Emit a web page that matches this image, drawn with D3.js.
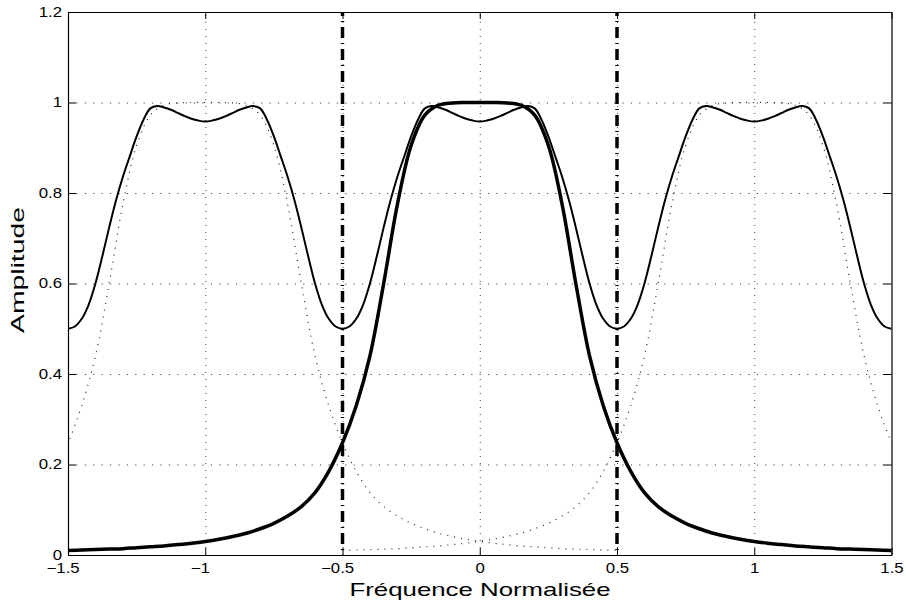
<!DOCTYPE html>
<html>
<head>
<meta charset="utf-8">
<script src="https://cdn.jsdelivr.net/npm/d3@7"></script>
<style>
  body { margin: 0; background: #fff; }
  svg { display: block; font-family: 'Liberation Sans', Arial, Helvetica, sans-serif; }
</style>
</head>
<body>
<div id="chart"></div>
<script>
// normalised frequency samples for the filter response
const freq = [
  -1.5, -1.45, -1.4, -1.35, -1.3, -1.25, -1.2, -1.15, -1.1, -1.05,
  -1.0, -0.95, -0.9, -0.85, -0.8, -0.75, -0.7, -0.65, -0.6, -0.55,
  -0.5, -0.45, -0.4, -0.35, -0.3, -0.25, -0.2, -0.15, -0.1, -0.05,
  0,
  0.05, 0.1, 0.15, 0.2, 0.25, 0.3, 0.35, 0.4, 0.45, 0.5,
  0.55, 0.6, 0.65, 0.7, 0.75, 0.8, 0.85, 0.9, 0.95, 1.0,
  1.05, 1.1, 1.15, 1.2, 1.25, 1.3, 1.35, 1.4, 1.45, 1.5
]

// filter response (thick line), also drawn dotted at +/-1
const filterAmp = [
  0.010, 0.011, 0.012, 0.013, 0.014, 0.016, 0.018, 0.020, 0.023, 0.026,
  0.030, 0.035, 0.041, 0.048, 0.058, 0.070, 0.086, 0.107, 0.138, 0.185,
  0.248, 0.330, 0.440, 0.600, 0.775, 0.905, 0.972, 0.994, 0.999, 1.000,
  1.000,
  1.000, 0.999, 0.994, 0.972, 0.905, 0.775, 0.600, 0.440, 0.330, 0.248,
  0.185, 0.138, 0.107, 0.086, 0.070, 0.058, 0.048, 0.041, 0.035, 0.030,
  0.026, 0.023, 0.020, 0.018, 0.016, 0.014, 0.013, 0.012, 0.011, 0.010
]

// finer samples for the periodic sum
const sumFreq = [
  -1.5, -1.475, -1.45, -1.425, -1.4, -1.375, -1.35, -1.325, -1.3, -1.275,
  -1.25, -1.225, -1.2, -1.175, -1.15, -1.125, -1.1, -1.075, -1.05, -1.025,
  -1.0, -0.975, -0.95, -0.925, -0.9, -0.875, -0.85, -0.825, -0.8, -0.775,
  -0.75, -0.725, -0.7, -0.675, -0.65, -0.625, -0.6, -0.575, -0.55, -0.525,
  -0.5, -0.475, -0.45, -0.425, -0.4, -0.375, -0.35, -0.325, -0.3, -0.275,
  -0.25, -0.225, -0.2, -0.175, -0.15, -0.125, -0.1, -0.075, -0.05, -0.025,
  0,
  0.025, 0.05, 0.075, 0.1, 0.125, 0.15, 0.175, 0.2, 0.225, 0.25,
  0.275, 0.3, 0.325, 0.35, 0.375, 0.4, 0.425, 0.45, 0.475, 0.5,
  0.525, 0.55, 0.575, 0.6, 0.625, 0.65, 0.675, 0.7, 0.725, 0.75,
  0.775, 0.8, 0.825, 0.85, 0.875, 0.9, 0.925, 0.95, 0.975, 1.0,
  1.025, 1.05, 1.075, 1.1, 1.125, 1.15, 1.175, 1.2, 1.225, 1.25,
  1.275, 1.3, 1.325, 1.35, 1.375, 1.4, 1.425, 1.45, 1.475, 1.5
]

// periodic sum (thin line)
const sumAmp = [
  0.500, 0.505, 0.522, 0.553, 0.600, 0.660, 0.724, 0.784, 0.836, 0.881,
  0.925, 0.962, 0.987, 0.992, 0.989, 0.984, 0.977, 0.970, 0.964, 0.960,
  0.958, 0.960, 0.964, 0.970, 0.977, 0.984, 0.989, 0.992, 0.987, 0.962,
  0.925, 0.881, 0.836, 0.784, 0.724, 0.660, 0.600, 0.553, 0.522, 0.505,
  0.500, 0.505, 0.522, 0.553, 0.600, 0.660, 0.724, 0.784, 0.836, 0.881,
  0.925, 0.962, 0.987, 0.992, 0.989, 0.984, 0.977, 0.970, 0.964, 0.960,
  0.958,
  0.960, 0.964, 0.970, 0.977, 0.984, 0.989, 0.992, 0.987, 0.962, 0.925,
  0.881, 0.836, 0.784, 0.724, 0.660, 0.600, 0.553, 0.522, 0.505, 0.500,
  0.505, 0.522, 0.553, 0.600, 0.660, 0.724, 0.784, 0.836, 0.881, 0.925,
  0.962, 0.987, 0.992, 0.989, 0.984, 0.977, 0.970, 0.964, 0.960, 0.958,
  0.960, 0.964, 0.970, 0.977, 0.984, 0.989, 0.992, 0.987, 0.962, 0.925,
  0.881, 0.836, 0.784, 0.724, 0.660, 0.600, 0.553, 0.522, 0.505, 0.500
]

const replicaShifts = [-1, 1]
const cutoffs = [-0.5, 0.5]

const xTicks = [-1.5, -1, -0.5, 0, 0.5, 1, 1.5]
const xTickLabels = ['\u22121.5', '\u22121', '\u22120.5', '0', '0.5', '1', '1.5']
const yTicks = [0, 0.2, 0.4, 0.6, 0.8, 1, 1.2]
const yTickLabels = ['0', '0.2', '0.4', '0.6', '0.8', '1', '1.2']
const xLabel = 'Fréquence Normalisée'
const yLabel = 'Amplitude'

const dimensions = {
  width: 906,
  height: 606,
  margin: { top: 12, right: 14.5, bottom: 51, left: 68 }
}
const innerW = dimensions.width - dimensions.margin.left - dimensions.margin.right
const innerH = dimensions.height - dimensions.margin.top - dimensions.margin.bottom

const svg = d3.select('#chart').append('svg')
  .attr('width', dimensions.width)
  .attr('height', dimensions.height)

svg.append('rect')
  .attr('width', dimensions.width)
  .attr('height', dimensions.height)
  .attr('fill', '#fff')

const bounds = svg.append('g')
  .attr('transform', `translate(${dimensions.margin.left}, ${dimensions.margin.top})`)

const x = d3.scaleLinear().domain([-1.5, 1.5]).range([0, innerW])
const y = d3.scaleLinear().domain([0, 1.2]).range([innerH, 0])

bounds.append('clipPath').attr('id', 'plot-clip')
  .append('rect').attr('width', innerW).attr('height', innerH)

// dotted grid
const xGrid = bounds.append('g')
  .attr('transform', `translate(0, ${innerH})`)
  .call(d3.axisBottom(x).tickValues(xTicks.slice(1, -1)).tickSizeInner(-innerH).tickFormat(''))
xGrid.select('.domain').remove()
xGrid.selectAll('line')
  .attr('stroke', '#444')
  .attr('stroke-dasharray', '1 6')

const yGrid = bounds.append('g')
  .call(d3.axisLeft(y).tickValues(yTicks.slice(1, -1)).tickSizeInner(-innerW).tickFormat(''))
yGrid.select('.domain').remove()
yGrid.selectAll('line')
  .attr('stroke', '#444')
  .attr('stroke-dasharray', '1.2 7.2')

const line = d3.line()
  .x(d => x(d[0]))
  .y(d => y(d[1]))
  .curve(d3.curveCatmullRom)

const curves = bounds.append('g').attr('clip-path', 'url(#plot-clip)')

// shifted replicas of the filter response
curves.selectAll('.replica')
  .data(replicaShifts)
  .join('path')
  .attr('class', 'replica')
  .attr('fill', 'none')
  .attr('stroke', '#222')
  .attr('stroke-width', 1.2)
  .attr('stroke-dasharray', '1 6')
  .attr('d', s => line(freq.map((f, i) => [f + s, filterAmp[i]])))

// sum (thin)
curves.append('path')
  .attr('fill', 'none')
  .attr('stroke', '#000')
  .attr('stroke-width', 2)
  .attr('d', line(sumFreq.map((f, i) => [f, sumAmp[i]])))

// filter (thick)
curves.append('path')
  .attr('fill', 'none')
  .attr('stroke', '#000')
  .attr('stroke-width', 3.5)
  .attr('d', line(freq.map((f, i) => [f, filterAmp[i]])))

// cutoff dash-dot lines
bounds.selectAll('.cutoff')
  .data(cutoffs)
  .join('line')
  .attr('class', 'cutoff')
  .attr('x1', d => x(d))
  .attr('x2', d => x(d))
  .attr('y1', y(1.2))
  .attr('y2', y(0))
  .attr('stroke', '#000')
  .attr('stroke-width', 3.5)
  .attr('stroke-dasharray', '11 5 1 5')
  .attr('stroke-dashoffset', 7)

// axes, ticks inward on all four sides
function styleAxis (g) {
  g.attr('font-family', null).attr('font-size', null)
  g.select('.domain').attr('stroke-width', 1.2)
  g.selectAll('.tick line').attr('stroke-width', 1)
  g.selectAll('text')
    .attr('fill', '#000')
    .style('font-size', '14px')
}

const xAxis = bounds.append('g')
  .attr('transform', `translate(0, ${innerH})`)
  .call(d3.axisBottom(x).tickValues(xTicks).tickSizeInner(-7).tickSizeOuter(0).tickPadding(8)
    .tickFormat((d, i) => xTickLabels[i]))
  .call(styleAxis)
xAxis.selectAll('text')
  .attr('transform', 'scale(1.2,1)')
  .attr('dx', d => d < 0 ? -4.5 : 0)

const yAxis = bounds.append('g')
  .call(d3.axisLeft(y).tickValues(yTicks).tickSizeInner(-8).tickSizeOuter(0).tickPadding(5)
    .tickFormat((d, i) => yTickLabels[i]))
  .call(styleAxis)
yAxis.selectAll('text')
  .attr('transform', 'scale(1.2,1)')

bounds.append('g')
  .call(d3.axisTop(x).tickValues(xTicks).tickSizeInner(-7).tickSizeOuter(0).tickFormat(''))
  .call(styleAxis)

bounds.append('g')
  .attr('transform', `translate(${innerW}, 0)`)
  .call(d3.axisRight(y).tickValues(yTicks).tickSizeInner(-8).tickSizeOuter(0).tickFormat(''))
  .call(styleAxis)

// axis titles
svg.append('text')
  .attr('x', 480)
  .attr('y', 596)
  .attr('text-anchor', 'middle')
  .attr('font-size', '18.5px')
  .attr('textLength', 261)
  .attr('lengthAdjust', 'spacingAndGlyphs')
  .attr('fill', '#000')
  .text(xLabel)

svg.append('text')
  .attr('transform', 'translate(24, 270) rotate(-90)')
  .attr('text-anchor', 'middle')
  .attr('font-size', '19px')
  .attr('textLength', 126)
  .attr('lengthAdjust', 'spacingAndGlyphs')
  .attr('fill', '#000')
  .text(yLabel)
</script>
</body>
</html>
